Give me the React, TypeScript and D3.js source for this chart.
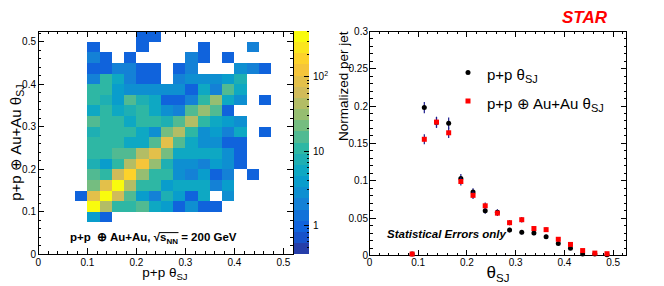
import React, { useLayoutEffect, useRef, useState } from 'react';
import * as d3 from 'd3';

// ---------------- DATA ----------------
const binWidth = 0.025;
// x bin lower edges (columns)
const xBinStarts = [0.075, 0.1, 0.125, 0.15, 0.175, 0.2, 0.225, 0.25, 0.275, 0.3, 0.325, 0.35, 0.375, 0.4, 0.425, 0.45];
// y bin lower edges (rows, top to bottom)
const yBinStarts = [0.5, 0.475, 0.45, 0.425, 0.4, 0.375, 0.35, 0.325, 0.3, 0.275, 0.25, 0.225, 0.2, 0.175, 0.15, 0.125, 0.1, 0.075];
// counts per cell (0 = empty)
const heatCounts = [
  [0, 0, 0, 0, 0, 1, 1, 0, 0, 0, 0, 0, 0, 0, 0, 0],
  [0, 1, 0, 0, 0, 1, 0, 0, 0, 0, 1, 0, 0, 0, 2, 0],
  [0, 2, 1, 0, 1, 0, 0, 0, 0, 2, 1, 0, 1, 0, 0, 0],
  [0, 1, 1, 2, 2, 1, 1, 0, 1, 2, 0, 0, 0, 3, 2, 1],
  [0, 2, 11, 5, 2, 1, 1, 0, 2, 3, 3, 3, 4, 8, 0, 0],
  [0, 11, 11, 4, 3, 3, 3, 3, 3, 1, 5, 2, 15, 5, 0, 0],
  [0, 11, 8, 4, 15, 8, 5, 1, 1, 2, 11, 30, 5, 3, 0, 1],
  [0, 5, 11, 5, 8, 11, 5, 3, 2, 15, 30, 15, 1, 0, 0, 0],
  [0, 15, 11, 11, 5, 11, 11, 8, 15, 45, 11, 5, 4, 3, 0, 0],
  [0, 8, 11, 11, 11, 5, 3, 21, 45, 11, 3, 4, 2, 5, 0, 1],
  [0, 11, 11, 11, 5, 5, 15, 85, 15, 5, 3, 3, 1, 1, 0, 0],
  [0, 11, 11, 15, 15, 42, 85, 21, 5, 5, 5, 5, 3, 1, 0, 0],
  [0, 8, 4, 11, 45, 120, 30, 8, 3, 3, 2, 4, 3, 1, 0, 0],
  [0, 15, 11, 60, 170, 30, 11, 11, 3, 2, 4, 1, 2, 0, 1, 0],
  [0, 21, 85, 340, 45, 11, 11, 4, 5, 5, 5, 2, 4, 0, 0, 0],
  [1, 95, 370, 60, 15, 4, 2, 8, 4, 1, 5, 0, 3, 0, 0, 0],
  [0, 400, 45, 11, 11, 15, 5, 4, 1, 3, 1, 1, 0, 0, 0, 0],
  [0, 4, 1, 0, 0, 0, 0, 0, 0, 0, 0, 0, 0, 0, 0, 0],
];
const zMin = 0.41;
const zMax = 410;
const nContours = 20;

const thetaCenters = [0.0875, 0.1125, 0.1375, 0.1625, 0.1875, 0.2125, 0.2375, 0.2625, 0.2875, 0.3125, 0.3375, 0.3625, 0.3875, 0.4125, 0.4375, 0.4625, 0.4875];
const ppValues = [0.002, 0.198, 0.178, 0.177, 0.103, 0.085, 0.060, 0.058, 0.034, 0.031, 0.030, 0.025, 0.016, 0.0096, 0.002, 0.002, 0.001];
const ppErrors = [0.001, 0.0075, 0.0072, 0.0075, 0.0062, 0.005, 0.0042, 0.004, 0.003, 0.003, 0.003, 0.0027, 0.002, 0.0016, 0.0008, 0.0008, 0.0006];
const auauValues = [0.002, 0.1555, 0.1785, 0.1642, 0.099, 0.0805, 0.0665, 0.0567, 0.0439, 0.0479, 0.0361, 0.0346, 0.0217, 0.0148, 0.0066, 0.0032, 0.0024];
const auauErrors = [0.001, 0.0068, 0.0072, 0.0069, 0.0055, 0.005, 0.0045, 0.004, 0.0035, 0.0037, 0.0032, 0.0031, 0.0024, 0.002, 0.0013, 0.0009, 0.0008];

const axisMajor = [0, 0.1, 0.2, 0.3, 0.4, 0.5];
const rightYMajor = [0, 0.05, 0.1, 0.15, 0.2, 0.25, 0.3];
const colorbarMajor = [1, 10, 100];

// kBird palette
const birdStops = [0.0, 0.125, 0.25, 0.375, 0.5, 0.625, 0.75, 0.875, 1.0];
const birdR = [0.2082, 0.0592, 0.0780, 0.0232, 0.1802, 0.5301, 0.8186, 0.9956, 0.9764];
const birdG = [0.1664, 0.3599, 0.5041, 0.6419, 0.7178, 0.7492, 0.7328, 0.7862, 0.9832];
const birdB = [0.5293, 0.8684, 0.8385, 0.7914, 0.6425, 0.4662, 0.3499, 0.1968, 0.0539];

// ---------------- STYLE ----------------
const FONT = '"Liberation Sans", Arial, Helvetica, sans-serif';
const NAVY = '#1c1c8c';

const bird = d3
  .scaleLinear<string>()
  .domain(birdStops)
  .range(birdStops.map((_, i) => d3.rgb(birdR[i] * 255, birdG[i] * 255, birdB[i] * 255).toString()))
  .interpolate(d3.interpolateRgb)
  .clamp(true);

const zLog = d3.scaleLog().domain([zMin, zMax]).range([0, 1]);
const bandColor = (i: number) => bird(Math.min(1, (i + 0.99) / nContours));
const cellColor = (v: number) => {
  const f = zLog(v);
  const band = Math.max(0, Math.min(nContours - 1, Math.floor(f * nContours)));
  return bandColor(band);
};

function range(a: number, b: number, step: number) {
  const out: number[] = [];
  const n = Math.round((b - a) / step);
  for (let i = 0; i <= n; i++) out.push(+(a + i * step).toFixed(6));
  return out;
}

function FrameTicks({ xs, ys, xMaj, xMin, yMaj, yMin }: any) {
  const [x0, x1] = xs.range();
  const [y0, y1] = ys.range(); // y0 bottom, y1 top
  const maj = 6;
  const mn = 3;
  const lines: any[] = [];
  xMin.forEach((v: number, i: number) => {
    const x = xs(v);
    if (x < x0 - 0.1 || x > x1 + 0.1) return;
    const L = xMaj.some((m: number) => Math.abs(m - v) < 1e-6) ? maj : mn;
    lines.push(<line key={'xb' + i} x1={x} x2={x} y1={y0} y2={y0 - L} />);
    lines.push(<line key={'xt' + i} x1={x} x2={x} y1={y1} y2={y1 + L} />);
  });
  yMin.forEach((v: number, i: number) => {
    const y = ys(v);
    if (y > y0 + 0.1 || y < y1 - 0.1) return;
    const L = yMaj.some((m: number) => Math.abs(m - v) < 1e-6) ? maj : mn;
    lines.push(<line key={'yl' + i} x1={x0} x2={x0 + L} y1={y} y2={y} />);
    lines.push(<line key={'yr' + i} x1={x1} x2={x1 - L} y1={y} y2={y} />);
  });
  return (
    <g stroke="#000" strokeWidth={1} shapeRendering="crispEdges">
      {lines}
      <rect x={x0} y={y1} width={x1 - x0} height={y0 - y1} fill="none" />
    </g>
  );
}

const fmt = (v: number) => String(+v.toFixed(3));

export default function App() {
  // Left panel scales
  const lx = d3.scaleLinear().domain([0, 0.52]).range([38.3, 293.3]);
  const ly = d3.scaleLinear().domain([0, 0.525]).range([254.3, 31]);
  // Color bar
  const cbX = 294.3;
  const cbW = 15;
  const cbY = d3.scaleLog().domain([zMin, zMax]).range([254.3, 31]);
  // Right panel scales
  const rx = d3.scaleLinear().domain([0, 0.5275]).range([369.5, 626.5]);
  const ry = d3.scaleLinear().domain([0, 0.3]).range([255.5, 31.3]);

  const textRef = useRef<SVGTextElement>(null);
  const [ov, setOv] = useState<{ x1: number; x2: number; y: number } | null>(null);
  useLayoutEffect(() => {
    const t = textRef.current;
    if (!t) return;
    try {
      const sq = t.getExtentOfChar(14);
      const n2 = t.getExtentOfChar(17);
      setOv({ x1: sq.x + sq.width - 0.8, x2: n2.x + n2.width + 0.5, y: sq.y + 1.6 });
    } catch (e) {
      /* ignore */
    }
  }, []);

  const cbMinor: number[] = [];
  [0.1, 1, 10, 100].forEach((d) => {
    for (let k = 1; k <= 9; k++) {
      const v = +(d * k).toFixed(4);
      if (v >= zMin && v <= zMax) cbMinor.push(v);
    }
  });

  const lyMid = (ly.range()[0] + ly.range()[1]) / 2;

  return (
    <svg
      width={664}
      height={286}
      style={{ position: 'absolute', left: 0, top: 0, background: '#fff' }}
      fontFamily={FONT}
    >
      <rect x={0} y={0} width={664} height={286} fill="#fff" />

      {/* ---------- LEFT: heat map ---------- */}
      <g shapeRendering="crispEdges">
        {heatCounts.map((row, ri) =>
          row.map((v, ci) =>
            v > 0 ? (
              <rect
                key={ri + '-' + ci}
                x={lx(xBinStarts[ci])}
                y={ly(Math.min(0.525, yBinStarts[ri] + binWidth))}
                width={lx(xBinStarts[ci] + binWidth) - lx(xBinStarts[ci])}
                height={ly(yBinStarts[ri]) - ly(Math.min(0.525, yBinStarts[ri] + binWidth))}
                fill={cellColor(v)}
              />
            ) : null
          )
        )}
      </g>
      <FrameTicks xs={lx} ys={ly} xMaj={axisMajor} xMin={range(0, 0.52, 0.02)} yMaj={axisMajor} yMin={range(0, 0.52, 0.02)} />

      {/* left tick labels */}
      <g fontSize={10} fill="#000">
        {axisMajor.map((v) => (
          <text key={'lxl' + v} x={lx(v)} y={266} textAnchor="middle">
            {fmt(v)}
          </text>
        ))}
        {axisMajor.map((v) => (
          <text key={'lyl' + v} x={36} y={ly(v)} dy="0.35em" textAnchor="end">
            {fmt(v)}
          </text>
        ))}
      </g>
      {/* left titles */}
      <text x={165} y={277} fontSize={13.5} textAnchor="middle">
        p+p θ<tspan fontSize={9.5} dy={3}>SJ</tspan>
      </text>
      <text transform={`translate(20.5,${lyMid}) rotate(-90)`} fontSize={15} textAnchor="middle" style={{ whiteSpace: 'pre' }}>
        p+p ⊕ Au+Au θ<tspan fontSize={10.5} dy={3.5}>SJ</tspan>
      </text>
      {/* heatmap annotation */}
      <text ref={textRef} x={70} y={241} fontSize={11.5} fontWeight="bold" style={{ whiteSpace: 'pre' }}>
        {'p+p  ⊕ Au+Au, √'}s<tspan fontSize={8} dy={2.5}>NN</tspan>
        <tspan dy={-2.5}>{' = 200 GeV'}</tspan>
      </text>
      {ov && <line x1={ov.x1} x2={ov.x2} y1={ov.y} y2={ov.y} stroke="#000" strokeWidth={1} />}

      {/* colour bar */}
      <g shapeRendering="crispEdges">
        {d3.range(nContours).map((i) => {
          const lo = zMin * Math.pow(zMax / zMin, i / nContours);
          const hi = zMin * Math.pow(zMax / zMin, (i + 1) / nContours);
          return <rect key={'cb' + i} x={cbX} y={cbY(hi)} width={cbW} height={cbY(lo) - cbY(hi)} fill={bandColor(i)} />;
        })}
      </g>
      <g stroke="#000" strokeWidth={1} shapeRendering="crispEdges">
        {cbMinor.map((v, i) => {
          const major = colorbarMajor.includes(v);
          const L = major ? 5 : 2.5;
          return <line key={'cbt' + i} x1={cbX + cbW} x2={cbX + cbW - L} y1={cbY(v)} y2={cbY(v)} />;
        })}
      </g>
      <g fontSize={10} fill="#000">
        <text x={313} y={cbY(1)} dy="0.35em">1</text>
        <text x={313} y={cbY(10)} dy="0.35em">10</text>
        <text x={313} y={cbY(100)} dy="0.35em">
          10<tspan fontSize={7} dy={-4}>2</tspan>
        </text>
      </g>

      {/* ---------- RIGHT: distributions ---------- */}
      <FrameTicks xs={rx} ys={ry} xMaj={axisMajor} xMin={range(0, 0.52, 0.02)} yMaj={rightYMajor} yMin={range(0, 0.3, 0.01)} />
      <g fontSize={10} fill="#000">
        {axisMajor.map((v) => (
          <text key={'rxl' + v} x={rx(v)} y={266} textAnchor="middle">
            {fmt(v)}
          </text>
        ))}
        {rightYMajor.map((v) => (
          <text key={'ryl' + v} x={368} y={ry(v)} dy="0.35em" textAnchor="end">
            {fmt(v)}
          </text>
        ))}
      </g>
      <text transform="translate(348,31.5) rotate(-90)" fontSize={13.5} textAnchor="end">
        Normalized per jet
      </text>
      <text x={498} y={278} fontSize={17} textAnchor="middle">
        θ<tspan fontSize={11.5} dy={4}>SJ</tspan>
      </text>

      {/* error bars + markers: p+p */}
      <g>
        {thetaCenters.map((t, i) => (
          <line key={'ppe' + i} x1={rx(t)} x2={rx(t)} y1={ry(Math.max(0, ppValues[i] - ppErrors[i]))} y2={ry(ppValues[i] + ppErrors[i])} stroke={NAVY} strokeWidth={1.2} />
        ))}
        {thetaCenters.map((t, i) => (
          <circle key={'ppm' + i} cx={rx(t)} cy={ry(ppValues[i])} r={2.5} fill="#000" />
        ))}
      </g>
      <g>
        {thetaCenters.map((t, i) => (
          <line key={'aae' + i} x1={rx(t)} x2={rx(t)} y1={ry(Math.max(0, auauValues[i] - auauErrors[i]))} y2={ry(auauValues[i] + auauErrors[i])} stroke={NAVY} strokeWidth={1.2} />
        ))}
        {thetaCenters.map((t, i) => (
          <rect key={'aam' + i} x={rx(t) - 2.5} y={ry(auauValues[i]) - 2.5} width={5} height={5} fill="#ff0000" />
        ))}
      </g>

      {/* legend */}
      <circle cx={468} cy={72.5} r={2.5} fill="#000" />
      <text x={487} y={79.5} fontSize={15} style={{ whiteSpace: 'pre' }}>
        p+p θ<tspan fontSize={11} dy={3.5}>SJ</tspan>
      </text>
      <rect x={465.5} y={98.5} width={5} height={5} fill="#ff0000" />
      <text x={487} y={108.5} fontSize={15} style={{ whiteSpace: 'pre' }}>
        p+p ⊕ Au+Au θ<tspan fontSize={11} dy={3.5}>SJ</tspan>
      </text>

      <text x={387} y={237.5} fontSize={11.5} fontWeight="bold" fontStyle="italic">
        Statistical Errors only
      </text>
      <text x={562} y={22.5} fontSize={17} fontWeight="bold" fontStyle="italic" fill="#ff0000">
        STAR
      </text>
    </svg>
  );
}
